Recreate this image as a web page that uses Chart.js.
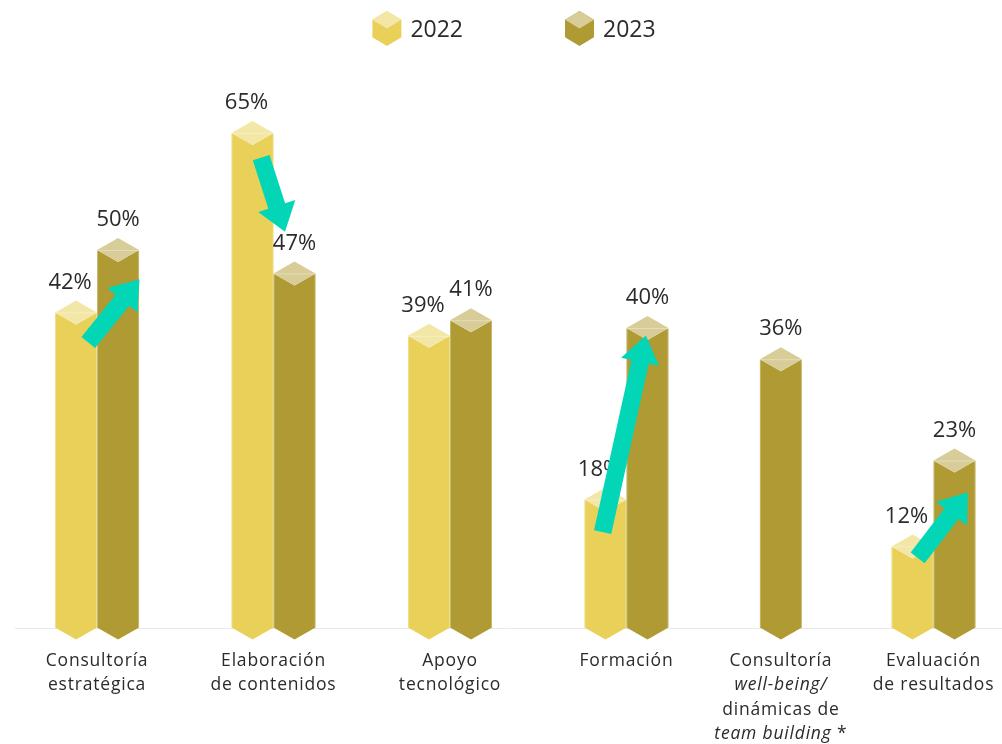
<!DOCTYPE html>
<html lang="es">
<head>
<meta charset="utf-8">
<title>Servicios 2022 / 2023</title>
<script src="https://cdn.jsdelivr.net/npm/chart.js@4"></script>
<style>
  html, body { margin: 0; padding: 0; background: #fff; }
  #wrap { width: 1002px; height: 744px; }
</style>
</head>
<body>
<div id="wrap"><canvas id="myChart" width="1002" height="744"></canvas></div>
<script>
// text between underscores is set in italics
const categories = [
  ['Consultoría', 'estratégica'],
  ['Elaboración', 'de contenidos'],
  ['Apoyo', 'tecnológico'],
  ['Formación'],
  ['Consultoría', '_well-being/_', 'dinámicas de', '_team building_ *'],
  ['Evaluación', 'de resultados']
];
// where each group sits on the x axis (the last two are packed tighter)
const slots = [0, 1, 2, 3, 3.875, 4.74];
const seriesLabels = ['2022', '2023'];
const values2022 = [42, 65, 39, 18, null, 12];
const values2023 = [50, 47, 41, 40, 36, 23];
// trend arrows in axis units, tail -> head
const arrows = [
  { from: [-0.05, 36.6], to: [0.24, 44.7] },
  { from: [0.93, 60.3], to: [1.065, 50.8] },
  { from: [2.865, 12.3], to: [3.11, 37.5] },
  { from: [4.65, 9.0], to: [4.935, 17.4] }
];

const palette = [
  { body: '#E9D058', cap: '#F3E7A7', shift: -6 },
  { body: '#AF9A34', cap: '#D8CD98', shift: 0 }
];
const TEAL = '#03D6B7';
const TEXT = '#2b2b2b';
const FONT = "'Open Sans', 'Noto Sans', sans-serif";
const CLEAR = 'rgba(0,0,0,0)';

const toPoints = vals => vals.map((v, i) => ({ x: slots[i], y: v }));

function drawPrism(ctx, cx, top, w, base, col) {
  const h = w / 2;
  const c = 12; // depth of the top face / bottom point
  ctx.save();
  // body, notched where the top face sits and pointed at the bottom
  ctx.beginPath();
  ctx.moveTo(cx - h, top + c);
  ctx.lineTo(cx, top + 2 * c);
  ctx.lineTo(cx + h, top + c);
  ctx.lineTo(cx + h, base);
  ctx.lineTo(cx, base + c);
  ctx.lineTo(cx - h, base);
  ctx.closePath();
  ctx.fillStyle = col.body;
  ctx.fill();
  // top face
  ctx.beginPath();
  ctx.moveTo(cx, top);
  ctx.lineTo(cx + h, top + c);
  ctx.lineTo(cx, top + 2 * c);
  ctx.lineTo(cx - h, top + c);
  ctx.closePath();
  ctx.fillStyle = col.cap;
  ctx.fill();
  // faint edges
  ctx.strokeStyle = 'rgba(255,255,255,0.3)';
  ctx.lineWidth = 1;
  ctx.beginPath();
  ctx.moveTo(cx - h + 0.5, top + c);
  ctx.lineTo(cx - h + 0.5, base);
  ctx.moveTo(cx + h - 0.5, top + c);
  ctx.lineTo(cx + h - 0.5, base);
  ctx.moveTo(cx - h, top + c + 0.5);
  ctx.lineTo(cx + h, top + c + 0.5);
  ctx.stroke();
  ctx.restore();
}

function drawCube(ctx, cx, cy, col) {
  const w = 14.5, a = 8.8, b = 17.5;
  ctx.beginPath();
  ctx.moveTo(cx, cy - b);
  ctx.lineTo(cx + w, cy - a);
  ctx.lineTo(cx + w, cy + a);
  ctx.lineTo(cx, cy + b);
  ctx.lineTo(cx - w, cy + a);
  ctx.lineTo(cx - w, cy - a);
  ctx.closePath();
  ctx.fillStyle = col.body;
  ctx.fill();
  ctx.beginPath();
  ctx.moveTo(cx, cy - b);
  ctx.lineTo(cx + w, cy - a);
  ctx.lineTo(cx, cy);
  ctx.lineTo(cx - w, cy - a);
  ctx.closePath();
  ctx.fillStyle = col.cap;
  ctx.fill();
}

function drawArrow(ctx, x0, y0, x1, y1) {
  const len = Math.hypot(x1 - x0, y1 - y0);
  const ux = (x1 - x0) / len, uy = (y1 - y0) / len;
  const nx = -uy, ny = ux;
  const sw = 8.8, hw = 19.5, hl = 27;
  const bx = x1 - ux * hl, by = y1 - uy * hl;
  ctx.beginPath();
  ctx.moveTo(x0 + nx * sw, y0 + ny * sw);
  ctx.lineTo(bx + nx * sw, by + ny * sw);
  ctx.lineTo(bx + nx * hw, by + ny * hw);
  ctx.lineTo(x1, y1);
  ctx.lineTo(bx - nx * hw, by - ny * hw);
  ctx.lineTo(bx - nx * sw, by - ny * sw);
  ctx.lineTo(x0 - nx * sw, y0 - ny * sw);
  ctx.closePath();
  ctx.fillStyle = TEAL;
  ctx.fill();
}

// a line made of normal and _italic_ pieces, centred on cx
function drawMixedLine(ctx, line, cx, cy, size) {
  const parts = line.split('_').map((t, i) => ({ t, italic: i % 2 === 1 })).filter(p => p.t);
  const fontOf = p => (p.italic ? 'italic ' : '') + size + 'px ' + FONT;
  let total = 0;
  parts.forEach(p => { ctx.font = fontOf(p); p.w = ctx.measureText(p.t).width; total += p.w; });
  let x = cx - total / 2;
  parts.forEach(p => {
    ctx.font = fontOf(p);
    ctx.fillText(p.t, x, cy);
    x += p.w;
  });
}

const decorPlugin = {
  id: 'decor',
  afterDatasetsDraw(chart) {
    const { ctx } = chart;
    const xs = chart.scales.x, ys = chart.scales.y;

    // bars as hexagonal prisms
    const tops = [];
    chart.data.datasets.forEach((ds, di) => {
      const meta = chart.getDatasetMeta(di);
      meta.data.forEach((bar, i) => {
        const v = ds.data[i].y;
        if (v == null) return;
        const p = bar.getProps(['x', 'y', 'width', 'base'], true);
        drawPrism(ctx, p.x, p.y, p.width, p.base, palette[di]);
        tops.push({ x: p.x + palette[di].shift, y: p.y, v });
      });
    });

    ctx.save();
    ctx.fillStyle = TEXT;
    ctx.textAlign = 'center';
    ctx.textBaseline = 'middle';

    // value labels
    ctx.font = '22px ' + FONT;
    tops.forEach(t => ctx.fillText(t.v + '%', t.x, t.y - 18));

    // category labels under the baseline
    ctx.textAlign = 'left';
    ctx.letterSpacing = '0.8px';
    const base = ys.getPixelForValue(0);
    categories.forEach((lines, i) => {
      const cx = xs.getPixelForValue(slots[i]);
      lines.forEach((line, li) => drawMixedLine(ctx, line, cx, base + 33 + li * 24.3, 17.5));
    });
    ctx.letterSpacing = '0px';

    // legend
    ctx.font = '23px ' + FONT;
    const gap = 102, iconW = 29, iconGap = 9;
    const items = chart.data.datasets.map((ds, di) => ({ text: ds.label, col: palette[di], w: iconW + iconGap + ctx.measureText(ds.label).width }));
    const full = items.reduce((s, it) => s + it.w, 0) + gap * (items.length - 1);
    let lx = chart.width / 2 + 13 - full / 2;
    items.forEach(it => {
      drawCube(ctx, lx + iconW / 2, 28.5, it.col);
      ctx.fillStyle = TEXT;
      ctx.fillText(it.text, lx + iconW + iconGap, 30);
      lx += it.w + gap;
    });
    ctx.restore();

    // trend arrows
    arrows.forEach(a => {
      drawArrow(ctx,
        xs.getPixelForValue(a.from[0]), ys.getPixelForValue(a.from[1]),
        xs.getPixelForValue(a.to[0]), ys.getPixelForValue(a.to[1]));
    });
  }
};

const ctx = document.getElementById('myChart');

new Chart(ctx, {
  type: 'bar',
  data: {
    datasets: [
      { label: seriesLabels[0], data: toPoints(values2022), backgroundColor: CLEAR, borderColor: CLEAR },
      { label: seriesLabels[1], data: toPoints(values2023), backgroundColor: CLEAR, borderColor: CLEAR }
    ]
  },
  options: {
    responsive: false,
    animation: false,
    devicePixelRatio: 1,
    layout: { padding: { left: 15, right: 0, top: 82, bottom: 116 } },
    datasets: {
      bar: {
        barThickness: 42,
        skipNull: true,
        borderWidth: 0
      }
    },
    scales: {
      x: { type: 'linear', min: -0.465, max: 5.128, offset: false, display: false },
      y: {
        min: 0,
        max: 70,
        border: { display: false },
        ticks: { display: false },
        grid: {
          drawTicks: false,
          color: c => (c.tick.value === 0 ? '#e8e8e8' : CLEAR)
        }
      }
    },
    plugins: {
      legend: { display: false },
      tooltip: { enabled: false },
      colors: { enabled: false }
    }
  },
  plugins: [decorPlugin]
});
</script>
</body>
</html>
